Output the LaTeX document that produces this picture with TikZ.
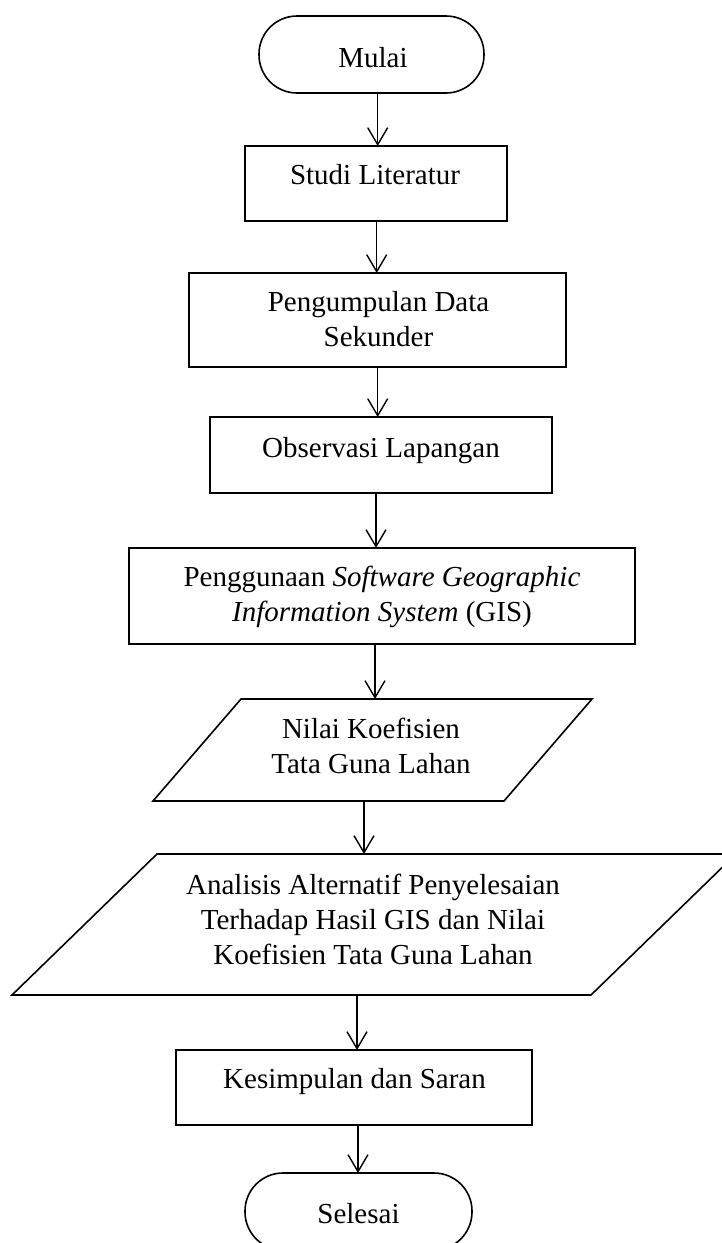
\documentclass[tikz,border=0pt]{standalone}
\usepackage{fontspec}
\setmainfont{Liberation Serif}
\usetikzlibrary{arrows.meta}
\begin{document}
\begin{tikzpicture}[x=1pt,y=-1pt,
  shapeline/.style={draw=black, line width=1.6pt},
  proc/.style={shapeline, rectangle, inner sep=0pt, outer sep=0pt},
  term/.style={proc, rounded corners=38pt},
  iobox/.style={rectangle, draw=none, inner sep=0pt, outer sep=0pt},
  txt/.style={font=\fontsize{29}{35}\selectfont, align=center, inner sep=0pt},
  arr/.style={line width=1.4pt, -{Straight Barb[length=17pt,width=20pt,line width=1.4pt]}}
]
\useasboundingbox (0,0) rectangle (722,1243);

% terminals and process boxes
\node[term, minimum width=225pt, minimum height=77pt,
  label={[txt,xshift=1.5pt,yshift=-5.5pt]center:{\strut Mulai}}] (start) at (371.5,54.5) {};
\node[proc, minimum width=262pt, minimum height=75pt,
  label={[txt,xshift=-1pt,yshift=6.5pt]center:{\strut Studi Literatur}}] (studi) at (376,183.5) {};
\node[proc, minimum width=377pt, minimum height=94pt,
  label={[txt,xshift=1pt,yshift=-2pt]center:{\strut Pengumpulan Data\\\strut Sekunder}}] (kumpul) at (377.5,320) {};
\node[proc, minimum width=342pt, minimum height=76pt,
  label={[txt,yshift=5pt]center:{\strut Observasi Lapangan}}] (obs) at (381,455) {};
\node[proc, minimum width=506pt, minimum height=96pt,
  label={[txt,yshift=-1pt]center:{\strut Penggunaan \textit{Software Geographic}\\\strut\textit{Information System} (GIS)}}] (gis) at (382,596) {};

% input/output (parallelograms)
\node[iobox, minimum width=439pt, minimum height=102pt,
  label={[txt,xshift=-1.5pt,yshift=1.5pt]center:{\strut Nilai Koefisien\\\strut Tata Guna Lahan}}] (nilai) at (372.5,750) {};
\draw[shapeline, line join=miter] (nilai.south west) -- ([xshift=-88pt]nilai.south east)
  -- (nilai.north east) -- ([xshift=88pt]nilai.north west) -- cycle;

\node[iobox, minimum width=724pt, minimum height=141pt,
  label={[txt,xshift=-1pt,yshift=2.5pt]center:{\strut Analisis Alternatif Penyelesaian\\\strut Terhadap Hasil GIS dan Nilai\\\strut Koefisien Tata Guna Lahan}}] (analisis) at (374,924.5) {};
\draw[shapeline, line join=miter] (analisis.south west) -- ([xshift=-145pt]analisis.south east)
  -- (analisis.north east) -- ([xshift=145pt]analisis.north west) -- cycle;

\node[proc, minimum width=356pt, minimum height=75pt,
  label={[txt,xshift=0.5pt,yshift=6.5pt]center:{\strut Kesimpulan dan Saran}}] (simpul) at (354,1087.5) {};
\node[term, minimum width=227pt, minimum height=77pt,
  label={[txt,yshift=-4.5pt]center:{\strut Selesai}}] (stop) at (358.5,1211.5) {};

% connectors
\draw[arr] ([xshift=6.2pt]start.south) -- ([xshift=1.7pt]studi.north);
\draw[arr] ([xshift=0.7pt]studi.south) -- ([xshift=-0.8pt]kumpul.north);
\draw[arr] ([xshift=0.2pt]kumpul.south) -- ([xshift=-3.3pt]obs.north);
\draw[arr] ([xshift=-5pt]obs.south) -- ([xshift=-6pt]gis.north);
\draw[arr] ([xshift=-7pt]gis.south) -- ([xshift=2.5pt]nilai.north);
\draw[arr] ([xshift=-8.5pt]nilai.south) -- ([xshift=-10pt]analisis.north);
\draw[arr] ([xshift=-17pt]analisis.south) -- ([xshift=3pt]simpul.north);
\draw[arr] ([xshift=4pt]simpul.south) -- ([xshift=-0.5pt]stop.north);
\end{tikzpicture}
\end{document}
